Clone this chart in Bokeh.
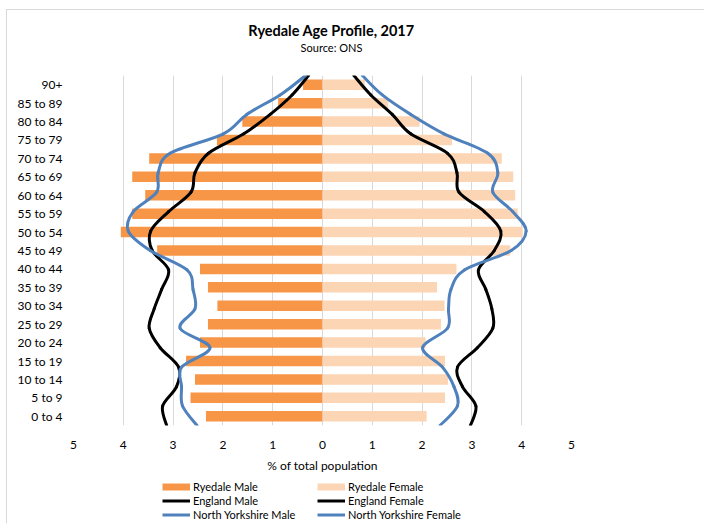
import numpy as np
from bokeh.plotting import figure
from bokeh.layouts import column
from bokeh.models import FixedTicker, Legend, LegendItem, Range1d, Label
from bokeh.embed import file_html
from bokeh.resources import INLINE

age_groups = ["0 to 4", "5 to 9", "10 to 14", "15 to 19", "20 to 24", "25 to 29",
              "30 to 34", "35 to 39", "40 to 44", "45 to 49", "50 to 54", "55 to 59",
              "60 to 64", "65 to 69", "70 to 74", "75 to 79", "80 to 84", "85 to 89", "90+"]

ryedale_male = [2.34, 2.65, 2.56, 2.74, 2.46, 2.30, 2.11, 2.30, 2.46, 3.32,
                4.05, 3.82, 3.56, 3.82, 3.48, 2.12, 1.61, 0.89, 0.39]
ryedale_female = [2.09, 2.46, 2.52, 2.46, 2.07, 2.38, 2.45, 2.30, 2.69, 3.77,
                  4.02, 3.92, 3.87, 3.83, 3.60, 2.60, 1.95, 1.32, 0.85]
england_male = [3.13, 3.21, 2.93, 2.89, 3.26, 3.48, 3.38, 3.23, 3.09, 3.42,
                3.45, 3.09, 2.64, 2.56, 2.29, 1.58, 1.05, 0.61, 0.28]
england_female = [2.97, 3.08, 2.81, 2.71, 3.11, 3.42, 3.40, 3.28, 3.13, 3.45,
                  3.58, 3.25, 2.74, 2.70, 2.51, 1.77, 1.40, 0.97, 0.63]
ny_male = [2.52, 2.81, 2.83, 2.83, 2.26, 2.86, 2.56, 2.60, 2.72, 3.46,
           3.90, 3.80, 3.33, 3.30, 3.06, 1.99, 1.52, 0.85, 0.34]
ny_female = [2.36, 2.71, 2.64, 2.41, 2.01, 2.51, 2.53, 2.58, 2.85, 3.79,
             4.09, 3.82, 3.42, 3.52, 3.32, 2.44, 1.77, 1.20, 0.80]

x_ticks = [-5, -4, -3, -2, -1, 0, 1, 2, 3, 4, 5]

title_text = "Ryedale Age Profile, 2017"
subtitle_text = "Source: ONS"
x_title = "% of total population"

FONT = "Lato"
ORANGE = "#f79646"
PEACH = "#fcd5b5"
BLUE = "#4f81bd"
GRID = "#d9d9d9"
W = 697          # content width inside the chart border
LEFT = 66        # frame left offset inside the content box
FRAME_W = 498


def bare(height):
    f = figure(width=W, height=height, output_backend="svg", toolbar_location=None,
               title=None, x_axis_location=None, y_axis_location=None,
               x_range=Range1d(0, 1), y_range=Range1d(height, 0), min_border=0)
    f.outline_line_color = None
    f.xgrid.grid_line_color = None
    f.ygrid.grid_line_color = None
    return f


# ---- title strip (frames are aligned with the main chart's frame) ----
t = bare(50)
t.add_layout(Label(x=258, y=20, x_units="screen", text=title_text, text_align="center",
                   text_baseline="middle", text_font=FONT, text_font_size="14.5px",
                   text_font_style="bold", text_color="#000000"))
t.add_layout(Label(x=258, y=37, x_units="screen", text=subtitle_text, text_align="center",
                   text_baseline="middle", text_font=FONT, text_font_size="11px",
                   text_color="#000000"))

# ---- main chart ----
n = len(age_groups)
p = figure(width=W, height=415, output_backend="svg", toolbar_location=None,
           title=None,
           x_range=Range1d(-5, 5), y_range=Range1d(-0.5, n - 0.5),
           min_border_left=LEFT, min_border_right=W - LEFT - FRAME_W, min_border_top=15,
           min_border_bottom=45)
p.outline_line_color = None
p.background_fill_color = "white"

p.xgrid.ticker = FixedTicker(ticks=x_ticks)
p.xgrid.grid_line_color = GRID
p.xgrid.grid_line_width = 1
p.ygrid.grid_line_color = None

p.xaxis.ticker = FixedTicker(ticks=x_ticks)
p.xaxis.major_label_overrides = {tk: str(abs(tk)) for tk in x_ticks}
p.yaxis.ticker = FixedTicker(ticks=list(range(n)))
p.yaxis.major_label_overrides = {i: g for i, g in enumerate(age_groups)}
for ax in (p.xaxis[0], p.yaxis[0]):
    ax.axis_line_color = None
    ax.major_tick_line_color = None
    ax.minor_tick_line_color = None
    ax.major_tick_out = 0
    ax.major_tick_in = 0
    ax.minor_tick_out = 0
    ax.major_label_text_font = FONT
    ax.major_label_text_font_size = "12px"
    ax.major_label_text_color = "#000000"
p.yaxis.major_label_standoff = 11
p.xaxis.major_label_standoff = 15
p.xaxis.axis_label = x_title
p.xaxis.axis_label_text_font = FONT
p.xaxis.axis_label_text_font_size = "12px"
p.xaxis.axis_label_text_font_style = "normal"
p.xaxis.axis_label_text_color = "#000000"
p.xaxis.axis_label_standoff = 6

ys = np.arange(n)
p.hbar(y=ys, left=[-v for v in ryedale_male], right=0, height=0.57,
       fill_color=ORANGE, line_color=None)
p.hbar(y=ys, left=0, right=ryedale_female, height=0.57,
       fill_color=PEACH, line_color=None)

# smoothed lines (Catmull-Rom drawn as cubic Bezier segments through the data points)
line_y = [-0.5 + i * n / (n - 1) for i in range(n)]


def smooth(xs, yv, color):
    xs = np.asarray(xs, float)
    yv = np.asarray(yv, float)
    xp = np.concatenate([[xs[0]], xs, [xs[-1]]])
    yp = np.concatenate([[yv[0]], yv, [yv[-1]]])
    m = len(xs) - 1
    x0 = xs[:-1]; y0 = yv[:-1]; x1 = xs[1:]; y1 = yv[1:]
    cx0 = xp[1:m + 1] + (xp[2:m + 2] - xp[0:m]) / 6
    cy0 = yp[1:m + 1] + (yp[2:m + 2] - yp[0:m]) / 6
    cx1 = xp[2:m + 2] - (xp[3:m + 3] - xp[1:m + 1]) / 6
    cy1 = yp[2:m + 2] - (yp[3:m + 3] - yp[1:m + 1]) / 6
    p.bezier(x0=x0, y0=y0, x1=x1, y1=y1, cx0=cx0, cy0=cy0, cx1=cx1, cy1=cy1,
             line_color=color, line_width=3, line_cap="round")


smooth([-v for v in england_male], line_y, "black")
smooth(england_female, line_y, "black")
smooth([-v for v in ny_male], line_y, BLUE)
smooth(ny_female, line_y, BLUE)

# ---- legend strip ----
q = bare(48)


def proxy(color, width):
    # off-range dummy renderer, only used to draw the legend swatch
    return q.line(x=[-100, -90], y=[-100, -90], line_color=color, line_width=width)


def make_legend(items, vx):
    lg = Legend(items=items, location=(vx, 2.5), orientation="vertical",
                margin=0, padding=0, spacing=1, glyph_width=28, glyph_height=13,
                label_height=13, label_standoff=3, label_text_font=FONT,
                label_text_font_size="11px", label_text_color="#000000",
                border_line_color=None, background_fill_alpha=0)
    q.add_layout(lg, "center")


make_legend([LegendItem(label="Ryedale Male", renderers=[proxy(ORANGE, 7)]),
             LegendItem(label="England Male", renderers=[proxy("black", 3)]),
             LegendItem(label="North Yorkshire Male", renderers=[proxy(BLUE, 3)])], 89)
make_legend([LegendItem(label="Ryedale Female", renderers=[proxy(PEACH, 7)]),
             LegendItem(label="England Female", renderers=[proxy("black", 3)]),
             LegendItem(label="North Yorkshire Female", renderers=[proxy(BLUE, 3)])], 244)

layout = column(t, p, q, spacing=0, margin=(9, 0, 0, 6),
                styles={"border-top": "1px solid #d9d9d9",
                        "border-left": "1px solid #d9d9d9"})
open("out.html", "w").write(file_html(layout, INLINE))
